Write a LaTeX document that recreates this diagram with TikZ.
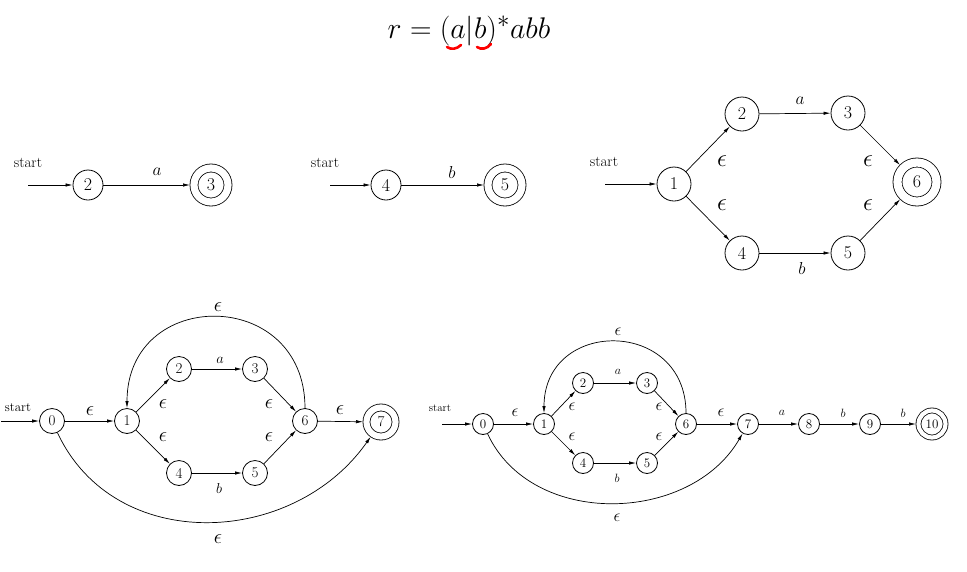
\documentclass[tikz,border=0pt]{standalone}
\usetikzlibrary{arrows.meta}
\begin{document}
\begin{tikzpicture}[x=1pt,y=1pt,
  st/.style={circle, draw, line width=0.8pt, inner sep=0pt, minimum size=#1},
  acc/.style n args={3}{circle, draw, line width=0.8pt, double, double distance=#2, inner sep=0pt, minimum size=#1, outer sep=#3},
  arr/.style={-{Latex[length=7pt,width=3.4pt]}, line width=0.7pt},
  lbl/.style={inner sep=0pt},
  eps/.style={inner sep=0pt, font=\fontsize{#1}{#1}\selectfont},
  redmark/.style={red, line width=2.6pt, line cap=round}
]
\fill[white] (0,0) rectangle (967,-571);
\useasboundingbox (0,0) rectangle (967,-571);

% title
\node[lbl, font=\Huge, scale=1.2] (title) at (469,-31) {$r = (a|b)^*abb$};
\draw[redmark] (447,-47) .. controls (451,-50) and (457,-49) .. (461,-45);
\draw[redmark] (477,-47) .. controls (481,-50) and (487,-49) .. (491,-44);

% ---------- top left: a ----------
\begin{scope}[every node/.append style={font=\fontsize{18}{20}\selectfont}]
\node[lbl, font=\fontsize{15}{18}\selectfont] (startA) at (28,-163) {start};
\coordinate (sA) at (28,-185);
\node[st=30pt] (a2) at (88,-185) {2};
\node[acc={34pt}{7.2pt}{4pt}] (a3) at (211,-185) {3};
\draw[arr] (sA) -- (a2);
\draw[arr] (a2) -- (a3);
\node[lbl, font=\fontsize{16}{18}\selectfont] (la) at (157,-172) {$a$};

% ---------- top middle: b ----------
\node[lbl, font=\fontsize{15}{18}\selectfont] (startB) at (325,-163) {start};
\coordinate (sB) at (330,-185);
\node[st=30pt] (b4) at (386,-185) {4};
\node[acc={34pt}{7.2pt}{4pt}] (b5) at (505,-185) {5};
\draw[arr] (sB) -- (b4);
\draw[arr] (b4) -- (b5);
\node[lbl, font=\fontsize{16}{18}\selectfont] (lb) at (452,-172) {$b$};

% ---------- top right: a|b ----------
\node[lbl, font=\fontsize{15}{18}\selectfont] (startC) at (604,-162) {start};
\coordinate (sC) at (605,-184);
\node[st=34pt] (u1) at (674,-184) {1};
\node[st=34pt] (u2) at (742,-114) {2};
\node[st=34pt] (u3) at (848,-113) {3};
\node[st=34pt] (u4) at (742,-253) {4};
\node[st=34pt] (u5) at (848,-253) {5};
\node[acc={39pt}{8.2pt}{4.5pt}] (u6) at (917,-182) {6};
\draw[arr] (sC) -- (u1);
\draw[arr] (u1) -- (u2);
\draw[arr] (u1) -- (u4);
\draw[arr] (u2) -- (u3);
\draw[arr] (u4) -- (u5);
\draw[arr] (u3) -- (u6);
\draw[arr] (u5) -- (u6);
\node[eps=24] (ue1) at (722,-161) {$\epsilon$};
\node[eps=24] (ue2) at (722,-205) {$\epsilon$};
\node[eps=24] (ue3) at (868,-161) {$\epsilon$};
\node[eps=24] (ue4) at (868,-205) {$\epsilon$};
\node[lbl, font=\fontsize{16}{18}\selectfont] (ua) at (800,-101) {$a$};
\node[lbl, font=\fontsize{16}{18}\selectfont] (ub) at (802,-268) {$b$};
\end{scope}

% ---------- bottom left: (a|b)* ----------
\begin{scope}[every node/.append style={font=\fontsize{15}{17}\selectfont}]
\node[lbl, font=\fontsize{13}{15}\selectfont] (startD) at (18,-408) {start};
\coordinate (sD) at (1,-421);
\node[st=25pt] (c0) at (52,-421) {0};
\node[st=25pt] (c1) at (127,-421) {1};
\node[st=25pt] (c2) at (179,-369) {2};
\node[st=25pt] (c3) at (255,-369) {3};
\node[st=25pt] (c4) at (179,-473) {4};
\node[st=25pt] (c5) at (255,-473) {5};
\node[st=25pt] (c6) at (305,-421) {6};
\node[acc={29pt}{6.2pt}{3.5pt}] (c7) at (381,-422) {7};
\draw[arr] (sD) -- (c0);
\draw[arr] (c0) -- (c1);
\draw[arr] (c1) -- (c2);
\draw[arr] (c1) -- (c4);
\draw[arr] (c2) -- (c3);
\draw[arr] (c4) -- (c5);
\draw[arr] (c3) -- (c6);
\draw[arr] (c5) -- (c6);
\draw[arr] (c6) -- (c7);
\draw[arr] (c6) to[out=90,in=90,looseness=1.75] (c1);
\draw[arr] (c0) to[out=-65,in=-125,looseness=1.1] (c7);
\node[eps=20] (ce01) at (90,-411) {$\epsilon$};
\node[eps=20] (ce12) at (163,-404) {$\epsilon$};
\node[eps=20] (ce14) at (163,-437) {$\epsilon$};
\node[eps=20] (ce36) at (269,-404) {$\epsilon$};
\node[eps=20] (ce56) at (269,-437) {$\epsilon$};
\node[eps=20] (ce67) at (340,-410) {$\epsilon$};
\node[eps=20] (cetop) at (218,-307) {$\epsilon$};
\node[eps=20] (cebot) at (218,-539) {$\epsilon$};
\node[lbl, font=\fontsize{14}{16}\selectfont] (ca) at (220,-360) {$a$};
\node[lbl, font=\fontsize{14}{16}\selectfont] (cb) at (219,-488) {$b$};
\end{scope}

% ---------- bottom right: (a|b)*abb ----------
\begin{scope}[every node/.append style={font=\fontsize{13}{15}\selectfont}]
\node[lbl, font=\fontsize{11}{13}\selectfont] (startE) at (440,-408) {start};
\coordinate (sE) at (442,-424);
\node[st=21pt] (d0) at (483,-424) {0};
\node[st=21pt] (d1) at (544,-424) {1};
\node[st=21pt] (d2) at (583,-383) {2};
\node[st=21pt] (d3) at (647,-383) {3};
\node[st=21pt] (d4) at (583,-463) {4};
\node[st=21pt] (d5) at (647,-463) {5};
\node[st=21pt] (d6) at (686,-424) {6};
\node[st=21pt] (d7) at (748,-424) {7};
\node[st=21pt] (d8) at (809,-424) {8};
\node[st=21pt] (d9) at (870,-424) {9};
\node[acc={27pt}{4.2pt}{2.5pt}] (d10) at (932,-424) {10};
\draw[arr] (sE) -- (d0);
\draw[arr] (d0) -- (d1);
\draw[arr] (d1) -- (d2);
\draw[arr] (d1) -- (d4);
\draw[arr] (d2) -- (d3);
\draw[arr] (d4) -- (d5);
\draw[arr] (d3) -- (d6);
\draw[arr] (d5) -- (d6);
\draw[arr] (d6) -- (d7);
\draw[arr] (d7) -- (d8);
\draw[arr] (d8) -- (d9);
\draw[arr] (d9) -- (d10);
\draw[arr] (d6) to[out=90,in=90,looseness=1.72] (d1);
\draw[arr] (d0) to[out=-65,in=-120,looseness=1.05] (d7);
\node[eps=16] (de01) at (515,-413) {$\epsilon$};
\node[eps=16] (de12) at (572,-407) {$\epsilon$};
\node[eps=16] (de14) at (572,-437) {$\epsilon$};
\node[eps=16] (de36) at (659,-407) {$\epsilon$};
\node[eps=16] (de56) at (659,-437) {$\epsilon$};
\node[eps=16] (de67) at (721,-413) {$\epsilon$};
\node[eps=16] (detop) at (618,-332) {$\epsilon$};
\node[eps=16] (debot) at (617,-518) {$\epsilon$};
\node[lbl, font=\fontsize{12}{14}\selectfont] (da) at (618,-372) {$a$};
\node[lbl, font=\fontsize{12}{14}\selectfont] (db) at (617,-478) {$b$};
\node[lbl, font=\fontsize{12}{14}\selectfont] (da78) at (782,-413) {$a$};
\node[lbl, font=\fontsize{12}{14}\selectfont] (db89) at (843,-413) {$b$};
\node[lbl, font=\fontsize{12}{14}\selectfont] (db910) at (903,-413) {$b$};
\end{scope}
\end{tikzpicture}
\end{document}
